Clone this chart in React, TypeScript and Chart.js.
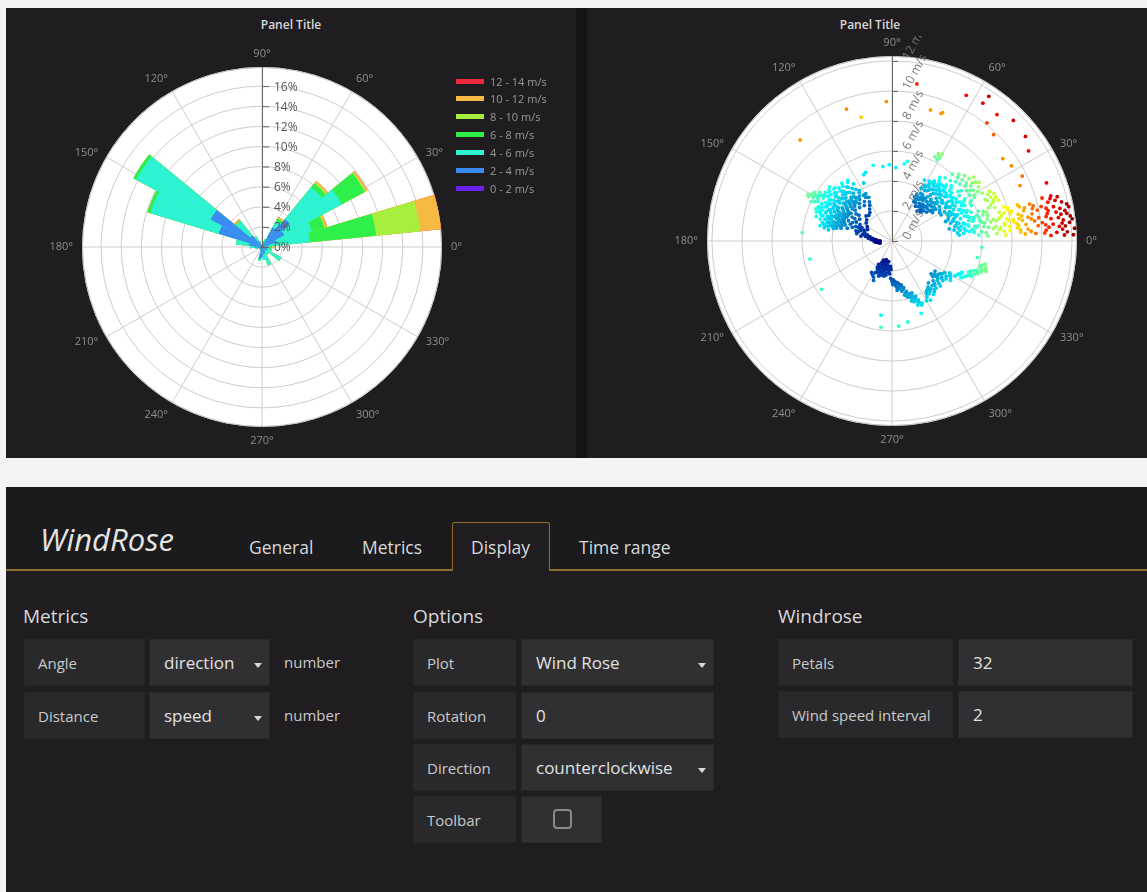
import React, { useEffect, useRef } from 'react';
import { Chart, registerables } from 'chart.js';

Chart.register(...registerables);
Chart.defaults.font.family = '"Open Sans", sans-serif';

// ---------------- DATA ----------------
// Wind rose: 32 petals, direction in degrees (counter-clockwise from east)
const petalDirections = [
  0, 11.25, 22.5, 33.75, 45, 56.25, 67.5, 78.75, 90, 101.25, 112.5, 123.75, 135, 146.25, 157.5, 168.75,
  180, 191.25, 202.5, 213.75, 225, 236.25, 247.5, 258.75, 270, 281.25, 292.5, 303.75, 315, 326.25, 337.5, 348.75,
];
const speedBins = ['0 - 2 m/s', '2 - 4 m/s', '4 - 6 m/s', '6 - 8 m/s', '8 - 10 m/s', '10 - 12 m/s', '12 - 14 m/s'];
// frequency (%) of each speed bin per petal
const freq0to2 = [0.1, 0.1, 0.2, 0.2, 0.2, 0.2, 0.1, 0.1, 0.1, 0.1, 0.1, 0.1, 0.2, 0.1, 0.1, 0.1, 0.3, 0.1, 0.1, 0.1, 0.1, 0.1, 0.1, 0.2, 0.2, 0.1, 0.1, 0.1, 0.1, 0.1, 0.1, 0.1];
const freq2to4 = [0.3, 0.6, 1.3, 2.3, 3.4, 2.0, 0.4, 0.2, 0.1, 0.1, 0.3, 0.6, 1.3, 5.7, 4.4, 1.2, 0.4, 0.3, 0.2, 0.1, 0.2, 0.2, 0.3, 1.0, 0.8, 0.6, 0.6, 0.4, 0.3, 0.5, 0.5, 0.4];
const freq4to6 = [0.4, 4.1, 3.7, 6.5, 4.1, 0.8, 0.3, 0, 0, 0, 0.2, 0.5, 1.8, 8.4, 7.1, 1.3, 0.5, 0.3, 0, 0, 0, 0, 0, 0.2, 0.2, 0.6, 1.2, 0.4, 0.5, 1.6, 0.4, 0.3];
const freq6to8 = [0.2, 6.6, 1.3, 2.6, 0.5, 0.2, 0, 0, 0, 0, 0, 0, 0.1, 0.3, 0.3, 0, 0, 0, 0, 0, 0, 0, 0, 0, 0, 0, 0, 0, 0, 0, 0, 0.1];
const freq8to10 = [0, 4.4, 0.1, 0.1, 0.1, 0.1, 0, 0, 0, 0, 0, 0, 0, 0, 0, 0, 0, 0, 0, 0, 0, 0, 0, 0, 0, 0, 0, 0, 0, 0, 0, 0];
const freq10to12 = [0.2, 2.1, 0.2, 0.2, 0.2, 0.1, 0, 0, 0, 0, 0, 0, 0.2, 0, 0, 0, 0, 0, 0, 0, 0, 0, 0, 0, 0, 0, 0, 0, 0, 0, 0, 0.1];
const freq12to14 = [0, 0, 0, 0, 0, 0, 0, 0, 0, 0, 0, 0, 0, 0, 0, 0, 0, 0, 0, 0, 0, 0, 0, 0, 0, 0, 0, 0, 0, 0, 0, 0];
const binFrequencies = [freq0to2, freq2to4, freq4to6, freq6to8, freq8to10, freq10to12, freq12to14];

const ROSE_MAX = 17.9;
const percentTicks = [0, 2, 4, 6, 8, 10, 12, 14, 16];
const angleTicks = [0, 30, 60, 90, 120, 150, 180, 210, 240, 270, 300, 330];
const speedTicks = [0, 2, 4, 6, 8, 10, 12];
const SCATTER_MAX = 12.33;

// Polar scatter observations: [direction deg, speed m/s]
const obsWest: number[][] = [
  [147,5.6],[149,5.9],[150,6.2],[151,6.0],[152,6.3],[153,5.8],[150,5.7],[148,6.1],[154,6.0],[151,6.4],[146,5.8],
  [138,5.2],[140,5.0],[141,5.4],[143,5.1],[144,5.5],[145,5.2],[147,5.0],[148,5.4],[150,5.1],[152,5.3],[153,5.0],[155,5.4],[156,5.1],[158,5.2],[160,5.0],[162,5.3],[157,5.5],[139,5.5],
  [130,4.7],[132,4.9],[134,4.6],[136,4.8],[137,4.5],[139,4.9],[141,4.6],[142,4.8],[144,4.5],[146,4.9],[147,4.6],[149,4.8],[151,4.5],[152,4.9],[154,4.7],[155,4.5],[157,4.8],[159,4.6],[160,4.9],[162,4.7],[164,4.5],[165,4.8],[167,4.6],[168,4.9],[135,5.0],[163,5.0],
  [125,4.2],[127,4.4],[129,4.1],[131,4.3],[133,4.0],[135,4.4],[137,4.2],[139,4.0],[140,4.4],[142,4.1],[144,4.3],[146,4.0],[148,4.4],[150,4.2],[152,4.0],[153,4.3],[155,4.1],[157,4.4],[158,4.0],[160,4.3],[162,4.1],[164,4.4],[166,4.2],[168,4.0],[170,4.3],
  [122,3.6],[124,3.9],[126,3.7],[128,3.5],[130,3.8],[132,3.6],[134,3.9],[136,3.5],[138,3.8],[140,3.6],[142,3.9],[144,3.7],[146,3.5],[148,3.8],[150,3.6],[152,3.9],[154,3.7],[156,3.5],[158,3.8],[160,3.6],[162,3.9],[164,3.7],[166,3.5],
  [118,3.3],[120,3.0],[125,3.2],[128,3.0],[131,3.3],[134,3.1],[137,3.4],[140,3.2],[143,3.0],[146,3.3],[149,3.1],[152,3.4],[155,3.2],[158,3.0],[161,3.3],[164,3.1],
  [122,2.8],[125,2.6],[128,2.4],[132,2.3],[136,2.4],[140,2.2],[142,2.8],[145,2.1],[146,2.6],[149,2.9],[150,1.9],[152,2.7],[155,2.9],[155,1.8],[158,2.6],[161,2.8],[164,2.5],
  [153,2.4],[156,2.2],[158,2.4],[159,2.0],[161,2.2],[163,1.9],[164,2.3],[166,1.7],[167,2.0],[169,1.5],[170,1.8],[172,1.3],[173,1.6],[175,1.1],[176,1.4],[178,1.0],[180,1.2],[182,0.9],[184,1.1],[187,0.9],[171,2.1],[168,2.4],
  [127,4.9],[129,4.6],[131,5.1],[133,4.4],[135,4.7],[137,5.2],[139,4.3],[141,4.8],[143,4.4],[145,4.7],[146,5.4],[148,4.2],[149,4.5],[150,4.9],[151,4.1],[153,4.6],[154,5.2],[156,4.8],[157,4.2],[159,4.4],[159,5.1],[161,4.5],[163,4.3],[165,4.1],[166,4.7],[167,4.4],[169,4.6],
  [129,3.7],[131,3.9],[133,3.5],[135,3.7],[137,3.9],[139,3.7],[141,3.4],[143,3.8],[145,3.6],[147,3.9],[149,3.4],[151,3.7],[153,3.5],[155,3.9],[157,3.6],[159,3.4],[161,3.8],[163,3.5],[165,3.9],[167,3.8],
  [123,4.0],[121,3.4],[119,3.6],[124,4.6],[126,5.0],[142,5.3],[148,5.7],[152,5.6],[156,5.3],[159,5.4],
  [177,1.2],[179,0.8],[181,1.1],[185,1.0],[190,0.8],[174,1.3],
];
const obsNorthEast: number[][] = [
  [36,3.6],[38,3.3],[40,3.0],[41,3.5],[42,3.8],[43,3.2],[44,2.9],[45,3.4],[46,3.7],[47,3.1],[48,2.8],[49,3.5],[50,3.2],[51,3.8],[52,2.9],[53,3.4],[54,3.1],[55,3.6],[56,2.8],[57,3.3],[58,3.0],[60,3.2],[45,2.7],[50,2.6],[40,3.9],[35,3.3],[62,3.5],[59,3.7],[39,3.6],[47,3.8],
  [6,4.8],[7,4.4],[8,5.0],[9,4.6],[10,4.2],[11,5.2],[12,4.7],[13,4.3],[14,4.9],[15,5.3],[16,4.5],[17,4.1],[18,4.8],[19,5.1],[20,4.4],[21,4.0],[22,4.7],[23,5.2],[24,4.3],[25,4.9],[26,4.1],[27,4.6],[28,5.3],[29,4.0],[30,4.5],[31,5.0],[32,4.2],[33,4.8],[34,5.4],[35,4.4],[36,3.9],[37,4.9],[38,4.2],[39,5.1],[40,4.6],[41,4.0],[42,5.3],[43,4.5],[44,4.1],[45,4.8],[46,5.2],[47,4.3],[48,4.7],[49,5.0],[50,4.0],[51,4.4],[52,5.1],[53,4.6],[54,4.2],[55,4.9],[56,4.4],[57,4.0],[58,4.7],[60,4.3],[62,4.6],[12,3.9],[20,3.8],[28,3.7],
  [21,4.6],[23,4.1],[25,5.0],[27,4.3],[29,4.8],[31,4.4],[33,5.1],[35,4.6],[37,4.2],[39,4.7],[41,5.1],[43,4.8],[45,4.4],[47,5.0],[49,4.5],[51,4.9],[53,4.3],[55,4.7],
  [8,5.4],[10,5.6],[12,5.2],[14,5.5],[16,5.7],[18,5.3],[20,5.6],[6,5.5],[22,5.4],[24,5.8],
  [26,5.8],[28,6.2],[30,5.6],[32,6.4],[34,6.0],[36,5.7],[38,6.3],[40,5.9],[42,6.5],[44,6.1],[46,5.6],[48,6.0],[50,5.5],[60,6.4],[61,6.2],[62,6.6],[63,6.3],[30,6.6],[35,6.8],[38,6.9],[61.4,6.5],[60,6.7],
  [20,7.0],[22,7.3],[23,6.9],[24,7.2],[25,7.5],[21,7.6],[26,7.1],
  [5,4.5],[7,5.2],[9,4.9],[11,4.5],[13,5.0],[15,4.6],[17,5.4],[19,4.3],[21,5.3],[23,4.5],[25,4.4],[27,5.2],[29,5.5],[31,4.7],[33,4.3],[35,5.0],[37,5.5],[39,4.3],[41,4.8],[43,5.4],[45,5.0],[47,4.6],[49,4.2],[51,4.7],[53,5.3],[55,4.1],[57,4.5],[59,4.2],[61,4.0],
  [10,4.9],[14,4.4],[18,4.3],[22,5.0],[26,5.4],[30,5.2],[34,4.8],[38,4.9],[42,4.3],[46,4.6],[50,4.8],[54,4.8],[58,4.3],
  [37,3.4],[39,3.2],[41,3.8],[43,3.5],[44,3.7],[46,3.2],[48,3.5],[49,3.0],[51,3.1],[52,3.6],[54,3.4],[56,3.5],[57,3.7],[59,3.4],[61,3.0],[63,3.3],[33,3.8],[31,3.7],
  [27,5.9],[29,6.3],[31,6.0],[33,6.2],[35,6.4],[37,6.1],[39,6.6],[41,6.2],[43,5.8],[45,6.3],[32,6.8],[34,7.0],[36,6.6],[19,6.8],[18,7.2],[21,7.2],[23,7.5],[24,6.8],[27,7.3],[28,6.8],
];
const obsEastBand: number[][] = [
  [10,5.8],[12,6.1],[14,5.6],[16,6.3],[8,6.5],[11,6.7],[13,6.0],[15,6.6],[9,6.2],[17,5.9],[18,6.4],[6,6.0],[4,5.8],[7,5.5],
  [6,7.2],[8,7.6],[10,7.9],[12,7.3],[14,7.7],[16,8.0],[9,8.2],[11,7.1],[13,8.1],[7,7.9],[15,7.4],[5,7.5],[17,7.8],[4,7.0],[12,6.9],
  [5,8.6],[7,9.0],[9,9.4],[11,8.8],[13,9.6],[6,9.8],[8,8.4],[10,9.2],[12,9.9],[14,9.1],[4,9.3],[3,8.9],[15,9.5],[16,8.7],[7,8.5],[9,9.9],
  [4,10.3],[6,10.8],[8,11.2],[10,10.5],[12,11.0],[14,10.7],[5,11.6],[7,10.1],[9,11.8],[11,11.4],[13,10.2],[3,11.0],[2,12.1],[4,12.2],[6,11.9],[8,12.0],[15,10.9],[11,10.6],[5,10.5],[7,11.5],[10,11.1],[3,11.7],
  [5,6.3],[7,6.8],[9,5.7],[11,6.3],[13,6.5],[15,6.0],[17,6.6],[3,6.4],[19,6.1],[16,5.6],
  [3,7.6],[5,7.9],[7,7.3],[9,7.6],[11,7.8],[13,7.5],[15,8.0],[10,8.2],[14,8.2],[8,7.0],
  [3,9.6],[5,9.1],[6,8.4],[8,9.6],[10,8.6],[11,9.5],[12,8.6],[14,9.7],[13,9.0],[4,8.6],[9,8.8],[15,8.8],
  [2,10.6],[3,10.2],[5,11.2],[6,10.3],[7,12.1],[8,10.7],[9,10.4],[10,11.7],[11,12.0],[12,10.5],[13,11.6],[14,11.2],[6,11.4],[4,11.4],[9,11.4],[12,11.9],[2,11.5],[16,10.4],
];
const obsGusts: number[][] = [
  [63,10.9],[56.6,11.0],[56.2,11.6],[51.2,10.1],[50.3,10.95],[44.8,11.4],[38.1,11.3],[33.4,10.9],[46.3,9.8],[36.6,9.2],[32.2,9.4],[26.5,9.7],
  [23.4,9.3],[20.6,11.0],[15.9,11.0],[15,11.4],[81,10.6],[92.3,9.3],[109,9.3],[104,8.5],[132.3,9.1],[73.6,9.1],[69,9.1],[68.5,9.2],
];
const obsSouth: number[][] = [
  [240,1.8],[243,2.1],[245,1.6],[247,2.0],[248,2.3],[250,1.7],[251,1.9],[252,2.2],[254,1.5],[255,1.8],[256,2.1],[258,1.6],[259,1.9],[260,2.3],[262,1.7],[263,2.0],[265,1.8],[266,2.2],[268,1.9],[246,1.4],[253,1.3],[261,1.4],[242,2.4],[249,2.5],[257,2.4],[243,2.7],[240,2.6],[237,2.5],[245,2.9],
  [268,2.5],[270,2.7],[272,2.6],[273,2.9],[275,3.0],[277,2.8],[278,3.2],[280,3.1],[281,3.4],[283,3.3],[284,3.6],[286,3.5],[287,3.8],[288,3.7],[289,4.0],[290,3.9],[291,4.2],[292,4.1],[293,4.4],[294,4.5],[295,4.7],[292,4.6],[286,3.9],[282,3.0],[276,3.3],[279,2.9],
  [241,2.0],[244,1.9],[247,1.7],[249,2.1],[251,1.5],[252,2.4],[254,2.0],[256,1.6],[257,1.9],[259,2.2],[261,1.9],[264,2.1],[267,1.7],[244,2.3],[248,1.8],[255,2.3],
  [271,2.9],[274,2.7],[276,3.1],[279,3.2],[281,3.0],[284,3.2],[285,3.8],[288,4.2],[290,4.3],[291,3.7],[293,4.0],[294,4.3],[296,4.6],[283,3.7],
];
const obsSouthEast: number[][] = [
  [302,4.4],[304,4.1],[305,4.3],[307,4.2],[308,3.9],[310,4.4],[312,4.0],[313,4.3],[314,4.1],[316,3.8],[318,4.2],[319,3.6],[320,3.4],[321,3.9],[322,3.6],[323,4.1],[324,3.8],[325,3.5],[326,3.9],[327,4.3],[328,4.6],[329,4.1],[330,4.5],[331,4.8],[332,5.2],[333,4.9],[334,5.4],[335,5.5],[336,5.1],[337,5.7],[338,5.9],[339,5.6],[340,6.1],[341,6.3],[342,6.6],[343,6.2],[345,6.2],[344,6.5],[349,5.8],[356,6.0],[300,4.6],[303,4.7],[311,3.7],[326,4.7],
  [303,4.2],[306,4.0],[308,4.5],[309,4.1],[311,4.3],[315,4.0],[317,4.4],[319,4.0],[321,3.7],[322,4.3],[324,4.1],[325,4.4],[327,4.0],[329,4.5],[331,4.4],[333,5.3],[335,5.1],[336,5.6],[338,5.5],[339,6.1],[340,5.8],[341,6.0],[342,6.3],[343,6.5],[344,6.1],[346,6.4],[336,5.8],[334,5.0],
];
const obsSparse: number[][] = [
  [113,4.8],[111,4.9],[104,5.2],[116,4.3],[92,5.1],[87,4.9],[79,5.4],[81,5.2],[97,5.0],
  [174.7,6.0],[192.4,5.6],[214.4,5.7],[261.6,5.0],[262.7,5.8],[274.5,5.7],[281,5.5],[292,5.2],
];

// ---------------- STYLE ----------------
const binColors = ['#6a22f2', '#3b8cf0', '#2ef3d3', '#2ff04a', '#a7ef3d', '#f6b942', '#ef2a3c'];
const PANEL_BG = '#1f1d20';
const AXIS_LABEL = '#8e8e8e';
const GRID = '#cdcdcd';
const JET: [number, number[]][] = [
  [0, [0, 0, 131]], [0.125, [0, 60, 170]], [0.375, [5, 255, 255]], [0.625, [255, 255, 0]], [0.875, [250, 0, 0]], [1, [128, 0, 0]],
];
const COLOR_MIN = 0.8;
const COLOR_MAX = 12.3;

function jet(v: number) {
  const t = Math.max(0, Math.min(1, (v - COLOR_MIN) / (COLOR_MAX - COLOR_MIN)));
  for (let i = 1; i < JET.length; i++) {
    if (t <= JET[i][0]) {
      const [t0, c0] = JET[i - 1];
      const [t1, c1] = JET[i];
      const f = (t - t0) / (t1 - t0);
      const c = c0.map((a, k) => Math.round(a + (c1[k] - a) * f));
      return `rgb(${c[0]},${c[1]},${c[2]})`;
    }
  }
  return 'rgb(128,0,0)';
}

function drawAngular(ctx: CanvasRenderingContext2D, cx: number, cy: number, R: number, lines: boolean) {
  ctx.save();
  if (lines) {
    ctx.strokeStyle = GRID;
    ctx.lineWidth = 1;
    angleTicks.forEach((a) => {
      const rad = (a * Math.PI) / 180;
      ctx.beginPath();
      ctx.moveTo(cx, cy);
      ctx.lineTo(cx + R * Math.cos(rad), cy - R * Math.sin(rad));
      ctx.stroke();
    });
    ctx.strokeStyle = '#bdbdbd';
    ctx.beginPath();
    ctx.arc(cx, cy, R - 0.5, 0, Math.PI * 2);
    ctx.stroke();
  } else {
    ctx.font = '11px "Open Sans", sans-serif';
    ctx.fillStyle = AXIS_LABEL;
    angleTicks.forEach((a) => {
      const rad = (a * Math.PI) / 180;
      const c = Math.cos(rad);
      const s = Math.sin(rad);
      ctx.textAlign = c > 0.1 ? 'left' : c < -0.1 ? 'right' : 'center';
      ctx.textBaseline = s > 0.6 ? 'bottom' : s < -0.6 ? 'top' : 'middle';
      const off = Math.abs(s) > 0.6 ? 8 : 9;
      ctx.fillText(`${a}°`, cx + (R + off) * c, cy - (R + off) * s);
    });
  }
  ctx.restore();
}

// ---------------- CHARTS ----------------
function WindRoseChart() {
  const ref = useRef<HTMLCanvasElement>(null);
  useEffect(() => {
    const n = petalDirections.length;
    const cumulative = (bin: number) => petalDirections.map((_, p) => {
      let s = 0;
      for (let b = 0; b <= bin; b++) s += binFrequencies[b][p];
      return Math.round(s * 100) / 100;
    });
    // Chart.js sweeps clockwise; map so petals run counter-clockwise from east
    const toChartOrder = (arr: number[]) => arr.map((_, k) => arr[(n - k) % n]);

    const rosePlugin = {
      id: 'roseAxes',
      beforeDatasetsDraw(chart: any) {
        const sc = chart.scales.r;
        drawAngular(chart.ctx, sc.xCenter, sc.yCenter, sc.getDistanceFromCenterForValue(sc.max), true);
      },
      afterDatasetsDraw(chart: any) {
        const sc = chart.scales.r;
        const ctx = chart.ctx as CanvasRenderingContext2D;
        const cx = sc.xCenter, cy = sc.yCenter;
        const R = sc.getDistanceFromCenterForValue(sc.max);
        ctx.save();
        ctx.strokeStyle = '#666';
        ctx.lineWidth = 1;
        ctx.beginPath();
        ctx.moveTo(cx + 0.5, cy);
        ctx.lineTo(cx + 0.5, cy - R);
        ctx.stroke();
        ctx.font = '12px "Open Sans", sans-serif';
        ctx.fillStyle = '#555';
        ctx.textAlign = 'left';
        ctx.textBaseline = 'middle';
        percentTicks.forEach((v) => {
          const y = cy - sc.getDistanceFromCenterForValue(v);
          ctx.beginPath();
          ctx.moveTo(cx, y + 0.5);
          ctx.lineTo(cx + 7, y + 0.5);
          ctx.stroke();
          ctx.fillText(`${v}%`, cx + 12, y + 1);
        });
        ctx.restore();
      },
      afterDraw(chart: any) {
        const sc = chart.scales.r;
        drawAngular(chart.ctx, sc.xCenter, sc.yCenter, sc.getDistanceFromCenterForValue(sc.max), false);
      },
    };

    const chart = new Chart(ref.current as HTMLCanvasElement, {
      type: 'polarArea',
      data: {
        labels: petalDirections.map((d) => `${d}°`),
        datasets: speedBins.map((label, i) => ({
          label,
          data: toChartOrder(cumulative(i)),
          backgroundColor: binColors[i],
          borderWidth: 0,
        })),
      },
      options: {
        responsive: false,
        animation: false,
        events: [],
        layout: { padding: { left: 76, top: 59, right: 134, bottom: 31 } },
        plugins: { legend: { display: false }, tooltip: { enabled: false } },
        scales: {
          r: {
            min: 0,
            max: ROSE_MAX,
            startAngle: 84.375,
            backgroundColor: '#ffffff',
            grid: { color: GRID, lineWidth: 1, circular: true },
            angleLines: { display: false },
            pointLabels: { display: false },
            ticks: { display: false, stepSize: 2, includeBounds: false },
          },
        },
      } as any,
      plugins: [rosePlugin],
    });
    return () => chart.destroy();
  }, []);
  return <canvas ref={ref} width={570} height={450} style={{ position: 'absolute', left: 0, top: 0, width: 570, height: 450 }} />;
}

function PolarScatterChart() {
  const ref = useRef<HTMLCanvasElement>(null);
  useEffect(() => {
    const observations = [...obsWest, ...obsNorthEast, ...obsEastBand, ...obsGusts, ...obsSouth, ...obsSouthEast, ...obsSparse];
    const points = observations.map(([dir, spd]) => ({
      x: spd * Math.cos((dir * Math.PI) / 180),
      y: spd * Math.sin((dir * Math.PI) / 180),
    }));
    const colors = observations.map(([, spd]) => jet(spd));

    const geom = (chart: any) => {
      const xs = chart.scales.x, ys = chart.scales.y;
      const cx = xs.getPixelForValue(0), cy = ys.getPixelForValue(0);
      return { xs, ys, cx, cy, R: xs.getPixelForValue(SCATTER_MAX) - cx };
    };

    const polarPlugin = {
      id: 'polarAxes',
      beforeDatasetsDraw(chart: any) {
        const ctx = chart.ctx as CanvasRenderingContext2D;
        const { xs, cx, cy, R } = geom(chart);
        ctx.save();
        ctx.fillStyle = '#ffffff';
        ctx.beginPath();
        ctx.arc(cx, cy, R, 0, Math.PI * 2);
        ctx.fill();
        ctx.strokeStyle = GRID;
        ctx.lineWidth = 1;
        speedTicks.forEach((v) => {
          if (v === 0) return;
          ctx.beginPath();
          ctx.arc(cx, cy, xs.getPixelForValue(v) - cx, 0, Math.PI * 2);
          ctx.stroke();
        });
        ctx.restore();
        drawAngular(ctx, cx, cy, R, true);
      },
      afterDatasetsDraw(chart: any) {
        const ctx = chart.ctx as CanvasRenderingContext2D;
        const { ys, cx, cy, R } = geom(chart);
        ctx.save();
        ctx.beginPath();
        ctx.rect(0, 28, chart.width, chart.height);
        ctx.clip();
        ctx.strokeStyle = '#666';
        ctx.lineWidth = 1;
        ctx.beginPath();
        ctx.moveTo(cx + 0.5, cy);
        ctx.lineTo(cx + 0.5, cy - R);
        ctx.stroke();
        ctx.font = '12px "Open Sans", sans-serif';
        ctx.fillStyle = '#777';
        speedTicks.forEach((v) => {
          const y = ys.getPixelForValue(v);
          ctx.beginPath();
          ctx.moveTo(cx, y + 0.5);
          ctx.lineTo(cx + 6, y + 0.5);
          ctx.stroke();
          ctx.save();
          ctx.translate(cx + 14, y - 2);
          ctx.rotate((-62 * Math.PI) / 180);
          ctx.textAlign = 'left';
          ctx.textBaseline = 'middle';
          ctx.fillText(`${v} m/s`, 0, 0);
          ctx.restore();
        });
        ctx.restore();
      },
      afterDraw(chart: any) {
        const { cx, cy, R } = geom(chart);
        drawAngular(chart.ctx, cx, cy, R, false);
      },
    };

    const chart = new Chart(ref.current as HTMLCanvasElement, {
      type: 'scatter',
      data: {
        datasets: [{
          label: 'speed',
          data: points,
          pointRadius: 1.9,
          pointBorderWidth: 0,
          pointBackgroundColor: colors,
          borderWidth: 0,
        }],
      },
      options: {
        responsive: false,
        animation: false,
        events: [],
        layout: { padding: { left: 120, top: 48, right: 70, bottom: 32 } },
        plugins: { legend: { display: false }, tooltip: { enabled: false } },
        scales: {
          x: { type: 'linear', min: -SCATTER_MAX, max: SCATTER_MAX, display: false },
          y: { type: 'linear', min: -SCATTER_MAX, max: SCATTER_MAX, display: false },
        },
      } as any,
      plugins: [polarPlugin],
    });
    return () => chart.destroy();
  }, []);
  return <canvas ref={ref} width={560} height={450} style={{ position: 'absolute', left: 0, top: 0, width: 560, height: 450 }} />;
}

// ---------------- UI helpers ----------------
const abs = (x: number, y: number, w: number, h: number, extra: React.CSSProperties = {}): React.CSSProperties => ({
  position: 'absolute', left: x, top: y, width: w, height: h, boxSizing: 'border-box', ...extra,
});

function Caret({ x, y }: { x: number; y: number }) {
  return <div style={{ position: 'absolute', left: x, top: y, width: 0, height: 0, borderLeft: '4px solid transparent', borderRight: '4px solid transparent', borderTop: '5px solid #d8d9da' }} />;
}

function LabelCell({ x, y, w, text, h = 47 }: { x: number; y: number; w: number; text: string; h?: number }) {
  return (
    <div style={abs(x, y, w, h, { background: '#29292b', border: '1px solid #262628', display: 'flex', alignItems: 'center', paddingLeft: 13, fontSize: 15, color: '#c9c9ca' })}>{text}</div>
  );
}

function ValueCell({ x, y, w, text, h = 47, caret }: { x: number; y: number; w: number; text: string; h?: number; caret?: boolean }) {
  return (
    <div style={abs(x, y, w, h, { background: '#303032', border: '1px solid #28282a', display: 'flex', alignItems: 'center', paddingLeft: 14, fontSize: 17, color: '#e2e2e3' })}>
      {text}
      {caret ? <Caret x={w - 17} y={h / 2 - 1} /> : null}
    </div>
  );
}

function Heading({ x, y, text }: { x: number; y: number; text: string }) {
  return <div style={abs(x, y, 200, 26, { fontSize: 19, lineHeight: '26px', color: '#d8d9da' })}>{text}</div>;
}

export default function App() {
  const legendItems = speedBins.map((label, i) => ({ label, color: binColors[i] })).reverse();
  return (
    <div style={{ position: 'absolute', left: 0, top: 0, width: 1147, height: 892, background: '#f4f4f4', overflow: 'hidden', fontFamily: '"Open Sans", sans-serif' }}>
      <div style={abs(6, 8, 1141, 450, { background: '#141414' })} />
      {/* Left panel */}
      <div style={abs(6, 8, 570, 450, { background: PANEL_BG })}>
        <div style={abs(0, 9, 570, 16, { textAlign: 'center', fontSize: 12, fontWeight: 600, lineHeight: '16px', color: '#d8d9da' })}>Panel Title</div>
        <WindRoseChart />
        {legendItems.map((it, i) => (
          <div key={it.label} style={abs(450, 73 + i * 17.9 - 7, 120, 14, { display: 'flex', alignItems: 'center' })}>
            <div style={{ width: 28, height: 5, background: it.color, marginRight: 6 }} />
            <span style={{ fontSize: 11, color: '#9a9a9a', whiteSpace: 'nowrap' }}>{it.label}</span>
          </div>
        ))}
      </div>
      {/* Right panel */}
      <div style={abs(587, 8, 560, 450, { background: PANEL_BG })}>
        <div style={abs(0, 9, 566, 16, { textAlign: 'center', fontSize: 12, fontWeight: 600, lineHeight: '16px', color: '#d8d9da' })}>Panel Title</div>
        <PolarScatterChart />
      </div>

      {/* Editor */}
      <div style={abs(6, 487, 1141, 405, { background: PANEL_BG })} />
      <div style={abs(6, 487, 1141, 83, { background: '#1b1a1c' })} />
      <div style={abs(6, 569, 1141, 2, { background: '#8d6c2f' })} />
      <div style={abs(40, 519, 220, 40, { fontSize: 31, fontStyle: 'italic', lineHeight: '40px', color: '#e4e4e4' })}>WindRose</div>
      <div style={abs(452, 522, 98, 49, { background: PANEL_BG, border: '1px solid #8d6c2f', borderBottom: 'none', borderRadius: '3px 3px 0 0' })} />
      {[['General', 249], ['Metrics', 362], ['Display', 471], ['Time range', 579]].map(([t, x]) => (
        <div key={t as string} style={abs(x as number, 535, 140, 24, { fontSize: 17.5, lineHeight: '24px', color: '#d8d9da', whiteSpace: 'nowrap' })}>{t}</div>
      ))}

      <Heading x={23} y={603} text="Metrics" />
      <LabelCell x={24} y={639} w={121} text="Angle" />
      <ValueCell x={149} y={639} w={121} text="direction" caret />
      <div style={abs(284, 650, 80, 24, { fontSize: 15, lineHeight: '24px', color: '#c9c9ca' })}>number</div>
      <LabelCell x={24} y={692} w={121} text="Distance" />
      <ValueCell x={149} y={692} w={121} text="speed" caret />
      <div style={abs(284, 703, 80, 24, { fontSize: 15, lineHeight: '24px', color: '#c9c9ca' })}>number</div>

      <Heading x={413} y={603} text="Options" />
      <LabelCell x={413} y={639} w={103} text="Plot" />
      <ValueCell x={521} y={639} w={193} text="Wind Rose" caret />
      <LabelCell x={413} y={692} w={103} text="Rotation" />
      <ValueCell x={521} y={692} w={193} text="0" />
      <LabelCell x={413} y={744} w={103} text="Direction" />
      <ValueCell x={521} y={744} w={193} text="counterclockwise" caret />
      <LabelCell x={413} y={796} w={103} text="Toolbar" />
      <div style={abs(521, 796, 81, 47, { background: '#303032', border: '1px solid #28282a' })}>
        <div style={abs(31, 12, 19, 20, { border: '2px solid #8a8a8c', borderRadius: 4 })} />
      </div>

      <Heading x={778} y={603} text="Windrose" />
      <LabelCell x={778} y={639} w={175} text="Petals" />
      <ValueCell x={958} y={639} w={175} text="32" />
      <LabelCell x={778} y={691} w={175} text="Wind speed interval" />
      <ValueCell x={958} y={691} w={175} text="2" />
    </div>
  );
}
